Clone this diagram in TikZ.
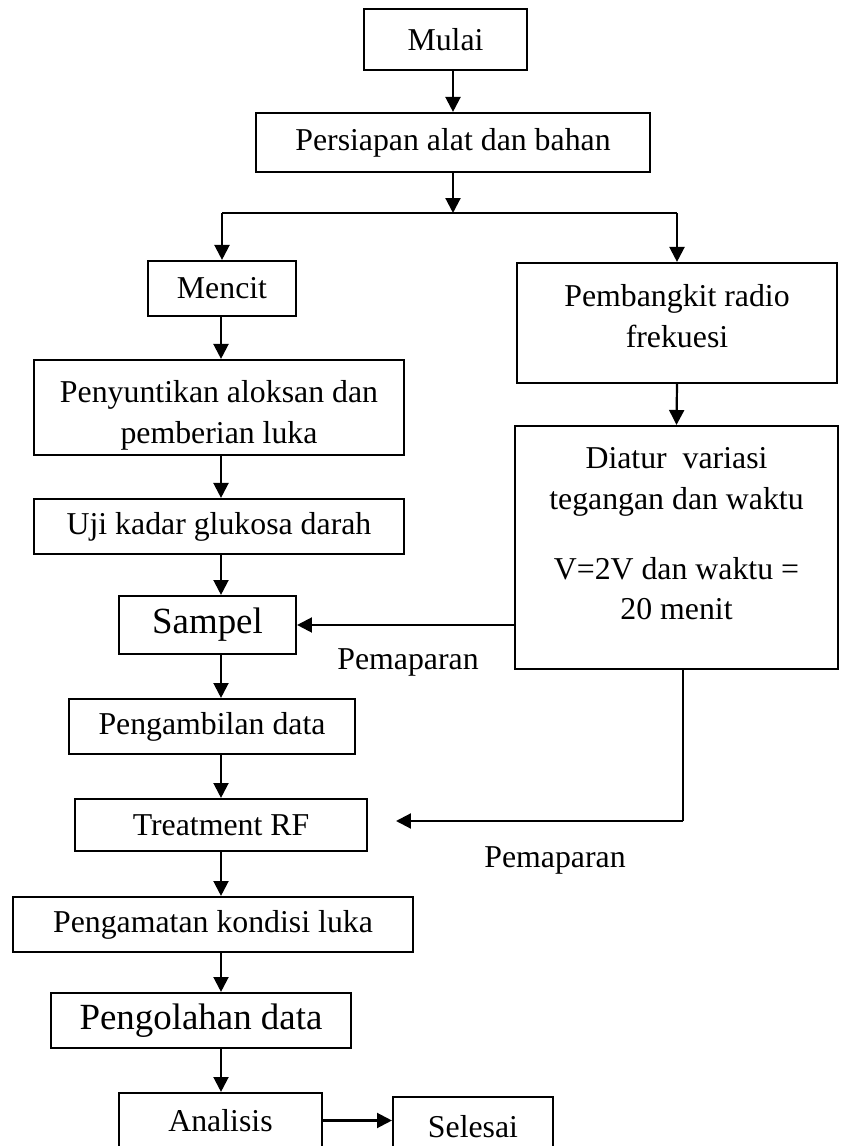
\documentclass[tikz,border=0pt]{standalone}
\usepackage{fontspec}
\setmainfont{Liberation Serif}
\usetikzlibrary{arrows.meta}

\begin{document}
\begin{tikzpicture}[x=1cm,y=1cm,
  font=\fontsize{18.1}{23.2}\selectfont,
  box/.style={draw=black,line width=1.2pt,align=center,inner sep=0pt},
  bigtext/.style={font=\fontsize{21}{25}\selectfont},
  note/.style={inner sep=0pt},
  flow/.style={draw=black,line width=1.25pt,-{Triangle[length=8.5pt,width=8.5pt]}},
  thinline/.style={draw=black,line width=.6pt}
]
\clip (0,0) rectangle (16.8,22.92);
\node[box,minimum width=3.26cm,minimum height=1.22cm] (mulai) at (8.91,22.13) {Mulai};
\node[box,minimum width=7.88cm,minimum height=1.18cm] (persiapan) at (9.06,20.07)
  {Persiapan alat dan bahan};
\node[box,minimum width=2.96cm,minimum height=1.10cm] (mencit) at (4.44,17.15) {Mencit};
\node[box,minimum width=6.40cm,minimum height=2.40cm] (pembangkit) at (13.54,16.46)
  {Pembangkit radio\\frekuesi\\[-0.54cm]\mbox{}};
\node[box,minimum width=7.40cm,minimum height=1.90cm] (penyuntikan) at (4.38,14.77)
  {\mbox{}\\[-1.6pt]Penyuntikan aloksan dan\\pemberian luka};
\node[box,minimum width=6.46cm,minimum height=4.86cm] (diatur) at (13.53,11.97)
  {Diatur~ variasi\\tegangan dan waktu\\[0.58cm]V=2V dan waktu =\\20 menit\\[-0.26cm]\mbox{}};
\node[box,minimum width=7.40cm,minimum height=1.10cm] (uji) at (4.38,12.39)
  {Uji kadar glukosa darah};
\node[box,bigtext,minimum width=3.54cm,minimum height=1.16cm] (sampel) at (4.15,10.42) {Sampel};
\node[box,minimum width=5.72cm,minimum height=1.10cm] (pengambilan) at (4.24,8.39)
  {Pengambilan data};
\node[box,minimum width=5.84cm,minimum height=1.04cm] (treatment) at (4.42,6.42) {Treatment RF};
\node[box,minimum width=8.00cm,minimum height=1.10cm] (pengamatan) at (4.26,4.43)
  {Pengamatan kondisi luka};
\node[box,bigtext,minimum width=6.00cm,minimum height=1.10cm] (pengolahan) at (4.02,2.51)
  {Pengolahan data};
\node[box,minimum width=4.06cm,minimum height=1.10cm] (analisis) at (4.41,0.51) {Analisis};
\node[box,minimum width=3.20cm,minimum height=1.20cm] (selesai) at (9.46,0.38) {Selesai};
\node[note] (pemaparanA) at (8.16,9.68) {Pemaparan};
\node[note] (pemaparanB) at (11.10,5.72) {Pemaparan};
\coordinate (split) at (9.06,18.66);
\coordinate (col) at (4.42,0);
\coordinate (bend) at (13.66,6.50);
\coordinate (rfhead) at (7.92,6.50);
\draw[flow] (mulai.south -| persiapan) -- (persiapan.north);
\draw[flow] (persiapan.south) -- (split);
\draw[thinline] (split -| mencit) -- (split -| pembangkit);
\draw[flow] (split -| mencit) -- (mencit.north);
\draw[flow] (split -| pembangkit) -- (pembangkit.north);
\draw[flow] (pembangkit.south) -- (diatur.north);
\draw[flow] (mencit.south -| col) -- (penyuntikan.north -| col);
\draw[flow] (penyuntikan.south -| col) -- (uji.north -| col);
\draw[flow] (uji.south -| col) -- (sampel.north -| col);
\draw[flow] (sampel.south -| col) -- (pengambilan.north -| col);
\draw[flow] (pengambilan.south -| col) -- (treatment.north -| col);
\draw[flow] (treatment.south -| col) -- (pengamatan.north -| col);
\draw[flow] (pengamatan.south -| col) -- (pengolahan.north -| col);
\draw[flow] (pengolahan.south -| col) -- (analisis.north -| col);
\draw[flow] (analisis.east) -- (selesai.west |- analisis.east);
\draw[flow] (diatur.west |- sampel.east) -- (sampel.east);
\draw[thinline] (diatur.south -| bend) -- (bend);
\draw[flow] (bend) -- (rfhead);
\end{tikzpicture}
\end{document}
